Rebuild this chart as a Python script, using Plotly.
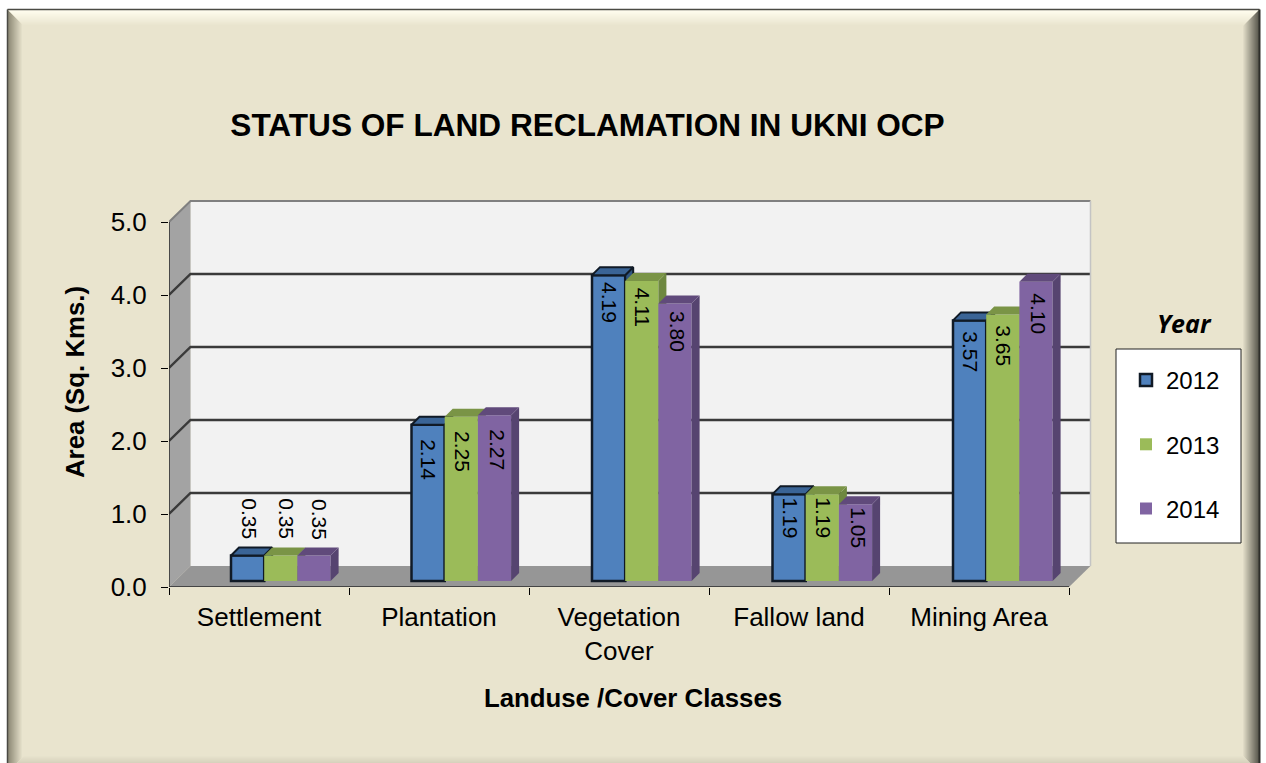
import plotly.graph_objects as go

categories = ["Settlement", "Plantation", "Vegetation<br>Cover", "Fallow land", "Mining Area"]
years = ["2012", "2013", "2014"]
values_2012 = [0.35, 2.14, 4.19, 1.19, 3.57]
values_2013 = [0.35, 2.25, 4.11, 1.19, 3.65]
values_2014 = [0.35, 2.27, 3.80, 1.05, 4.10]
series_values = [values_2012, values_2013, values_2014]
y_ticks = [0, 1, 2, 3, 4, 5]
front_colors = ["#4F81BD", "#9BBB59", "#8064A2"]
top_colors = ["#3A6496", "#7A9446", "#604A7B"]
side_colors = ["#2F5480", "#6E8840", "#564470"]
edge_colors = ["#101A26", None, None]

W, H = 1266, 763
PX_X0, PX_X1 = 169, 1097      # plot area left/right in page pixels
PX_Y0, PX_Y1 = 587, 177       # plot area bottom/top in page pixels
PX_PER_CAT = 180.0
PX_PER_UNIT = 73.0

x_range = [0, (PX_X1 - PX_X0) / PX_PER_CAT]
y_range = [0, (PX_Y0 - PX_Y1) / PX_PER_UNIT]
wall_dx, wall_dy = 21.5 / PX_PER_CAT, 21 / PX_PER_UNIT
bar_dx, bar_dy = 8 / PX_PER_CAT, 8 / PX_PER_UNIT
bar_base = 6 / PX_PER_UNIT
bar_w = 33.2 / PX_PER_CAT
group_start = 62.0 / PX_PER_CAT
group_step = 180.5 / PX_PER_CAT
n_cat = len(categories)

fig = go.Figure()


def poly(xs, ys, color, xa="x", ya="y", line=None, lw=0):
    fig.add_trace(go.Scatter(
        x=xs + xs[:1], y=ys + ys[:1], mode="lines", fill="toself", fillcolor=color,
        line=dict(color=line or color, width=lw if line else 0),
        hoverinfo="skip", showlegend=False, xaxis=xa, yaxis=ya))


def seg(xs, ys, color, width):
    fig.add_trace(go.Scatter(x=xs, y=ys, mode="lines", line=dict(color=color, width=width),
                             hoverinfo="skip", showlegend=False, xaxis="x", yaxis="y"))


top = y_ticks[-1]
# back wall, side wall, floor
poly([wall_dx, n_cat + wall_dx, n_cat + wall_dx, wall_dx],
     [wall_dy, wall_dy, top + wall_dy, top + wall_dy], "#F2F2F2")
poly([0, wall_dx, wall_dx, 0], [0, wall_dy, top + wall_dy, top], "#A3A3A3")
poly([0, wall_dx, n_cat + wall_dx, n_cat], [0, wall_dy, wall_dy, 0], "#969696")
# gridlines on walls
for v in y_ticks[1:]:
    c, w = ("#3A3A3A", 2.4) if v < top else ("#808080", 2)
    seg([0, wall_dx, n_cat + wall_dx], [v, v + wall_dy, v + wall_dy], c, w)
seg([n_cat + wall_dx, n_cat + wall_dx], [wall_dy, top + wall_dy], "#C4C4C4", 1.5)
seg([0, 0], [0, top], "#2A2A2A", 1.5)
seg([0, n_cat], [0, 0], "#2A2A2A", 1.5)

# bars: each series sits on its own overlaid axes so later series hide earlier depth faces
for s, (year, vals) in enumerate(zip(years, series_values)):
    xa, ya = f"x{s + 2}", f"y{s + 2}"
    centers = [group_start + i * group_step + (s + 0.5) * bar_w for i in range(n_cat)]
    edge = edge_colors[s]
    fig.add_trace(go.Bar(
        x=centers, y=vals, base=bar_base, width=bar_w, name=year,
        marker=dict(color=front_colors[s], line=dict(color=edge or front_colors[s], width=2.5 if edge else 0)),
        legendgroup=year, hoverinfo="skip", xaxis=xa, yaxis=ya))
    for c, v in zip(centers, vals):
        x0, x1, yt, yb = c - bar_w / 2, c + bar_w / 2, v + bar_base, bar_base
        poly([x1, x1 + bar_dx, x1 + bar_dx, x1], [yb, yb + bar_dy, yt + bar_dy, yt],
             side_colors[s], xa, ya, edge, 2)
        poly([x0, x0 + bar_dx, x1 + bar_dx, x1], [yt, yt + bar_dy, yt + bar_dy, yt],
             top_colors[s], xa, ya, edge, 2)

# value labels: nudges per series (inside / above the bar) and per category (depth below bar top)
inside_dx = [1, 1, 3]
above_dx = [1, 5, 5]
inset_px = [0, 14, 7, 3, 11]
annotations = []
for s, vals in enumerate(series_values):
    for i, v in enumerate(vals):
        c = group_start + i * group_step + (s + 0.5) * bar_w
        inside = v > 1
        annotations.append(dict(
            x=c, y=v + bar_base, xref="x", yref="y", text=f"{v:.2f}", showarrow=False,
            textangle=90, font=dict(family="Liberation Sans", size=21, color="#000000"),
            yanchor="top" if inside else "bottom", xanchor="center",
            xshift=inside_dx[s] if inside else above_dx[s],
            yshift=-(inset_px[i] - 2) if inside else 14))

annotations.append(dict(
    x=1184.5 / W, y=1 - 323.5 / H, xref="paper", yref="paper", text="<b><i>Year</i></b>", showarrow=False,
    font=dict(family="Open Sans", size=25, color="#000000"), xanchor="center", yanchor="middle"))

# page background, bevel, legend box
shapes = [dict(type="rect", xref="paper", yref="paper", x0=7 / W, x1=1260 / W, y0=0, y1=1 - 9 / H,
               fillcolor="#E9E4CE", line=dict(width=0), layer="below")]


def lerp(a, b, t):
    return "#" + "".join(f"{round(a[i] + (b[i] - a[i]) * t):02X}" for i in range(3))


base_c = (0xE9, 0xE4, 0xCE)
ramps = dict(left=((0x8E, 0x8A, 0x76), base_c, 14),
             top=((0xFF, 0xFD, 0xEE), base_c, 15),
             right=((0x5A, 0x58, 0x4E), base_c, 16),
             bottom=((0xC0, 0xBC, 0xA8), base_c, 16))
L, T, R, B = 8, 10, 1259, 772


def pline(x0, y0, x1, y1, color, width=1):
    return dict(type="line", xref="paper", yref="paper", x0=x0 / W, x1=x1 / W,
                y0=1 - y0 / H, y1=1 - y1 / H, line=dict(color=color, width=width), layer="below")


for k in range(16, -1, -1):
    for name, (a, b, n) in ramps.items():
        if k >= n:
            continue
        col = lerp(a, b, k / n)
        l, t, r, bt = L + k + .5, T + k + .5, R - k - .5, B - k - .5
        if name == "left":
            shapes.append(pline(l, t, l, bt, col))
        elif name == "right":
            shapes.append(pline(r, t, r, bt, col))
        elif name == "top":
            shapes.append(pline(l, t, r, t, col))
        else:
            shapes.append(pline(l, bt, r, bt, col))
# outer frame
shapes.append(pline(7.5, 9.5, 1259.5, 9.5, "#4A4A44", 1.5))
shapes.append(pline(7.5, 9.5, 7.5, 763, "#4A4A44", 1.5))
shapes.append(pline(1259.5, 9.5, 1259.5, 763, "#2E2E2A", 2))
# legend box
shapes.append(dict(type="rect", xref="paper", yref="paper", x0=1116 / W, x1=1241 / W,
                   y0=1 - 543 / H, y1=1 - 349 / H, fillcolor="#FFFFFF",
                   line=dict(color="#222222", width=1), layer="below"))

axis_font = dict(family="Liberation Sans", size=26, color="#000000")
title_font = dict(family="Liberation Sans", size=25.8, color="#000000")

layout_axes = {}
for s in range(3):
    layout_axes[f"xaxis{s + 2}"] = dict(overlaying="x", range=x_range, visible=False, fixedrange=True,
                                        anchor=f"y{s + 2}")
    layout_axes[f"yaxis{s + 2}"] = dict(overlaying="y", range=y_range, visible=False, fixedrange=True,
                                        anchor=f"x{s + 2}")

fig.update_layout(
    width=W, height=H, margin=dict(l=0, r=0, t=0, b=0, autoexpand=False),
    paper_bgcolor="#FFFFFF", plot_bgcolor="rgba(0,0,0,0)",
    barmode="overlay",
    title=dict(text="<b>STATUS OF LAND RECLAMATION IN UKNI OCP</b>",
               font=dict(family="Liberation Sans", size=31.6, color="#000000"),
               x=587.5 / W, xref="paper", xanchor="center", y=1 - 125 / H, yref="paper", yanchor="middle"),
    xaxis=dict(domain=[PX_X0 / W, PX_X1 / W], range=x_range, fixedrange=True,
               tickmode="array", tickvals=[i + 0.5 for i in range(n_cat)], ticktext=categories,
               ticks="", showgrid=False, zeroline=False, showline=False, tickfont=axis_font,
               ticklabelstandoff=12,
               minor=dict(tickmode="array", tickvals=list(range(n_cat + 1)), ticks="outside", ticklen=7,
                          tickwidth=1, tickcolor="#000000", showgrid=False),
               title=dict(text="<b>Landuse /Cover Classes</b>", font=title_font, standoff=24)),
    yaxis=dict(domain=[1 - PX_Y0 / H, 1 - PX_Y1 / H], range=y_range, fixedrange=True,
               tickmode="array", tickvals=y_ticks, tickformat=".1f",
               ticks="outside", ticklen=7, tickwidth=1, tickcolor="#000000",
               ticklabelstandoff=9,
               showgrid=False, zeroline=False, showline=False, tickfont=axis_font,
               title=dict(text="<b>Area (Sq. Kms.)</b>", font=title_font, standoff=18)),
    legend=dict(x=1126 / W, y=1 - 358 / H, xanchor="left", yanchor="top", bgcolor="rgba(0,0,0,0)",
                traceorder="grouped", tracegroupgap=30, itemclick=False, itemdoubleclick=False,
                font=dict(family="Liberation Sans", size=24, color="#000000")),
    showlegend=True, annotations=annotations, shapes=shapes, **layout_axes)

fig.write_html("out.html", config=dict(displayModeBar=False),
               post_script="document.body.style.margin='0';document.documentElement.style.overflow='hidden';")
